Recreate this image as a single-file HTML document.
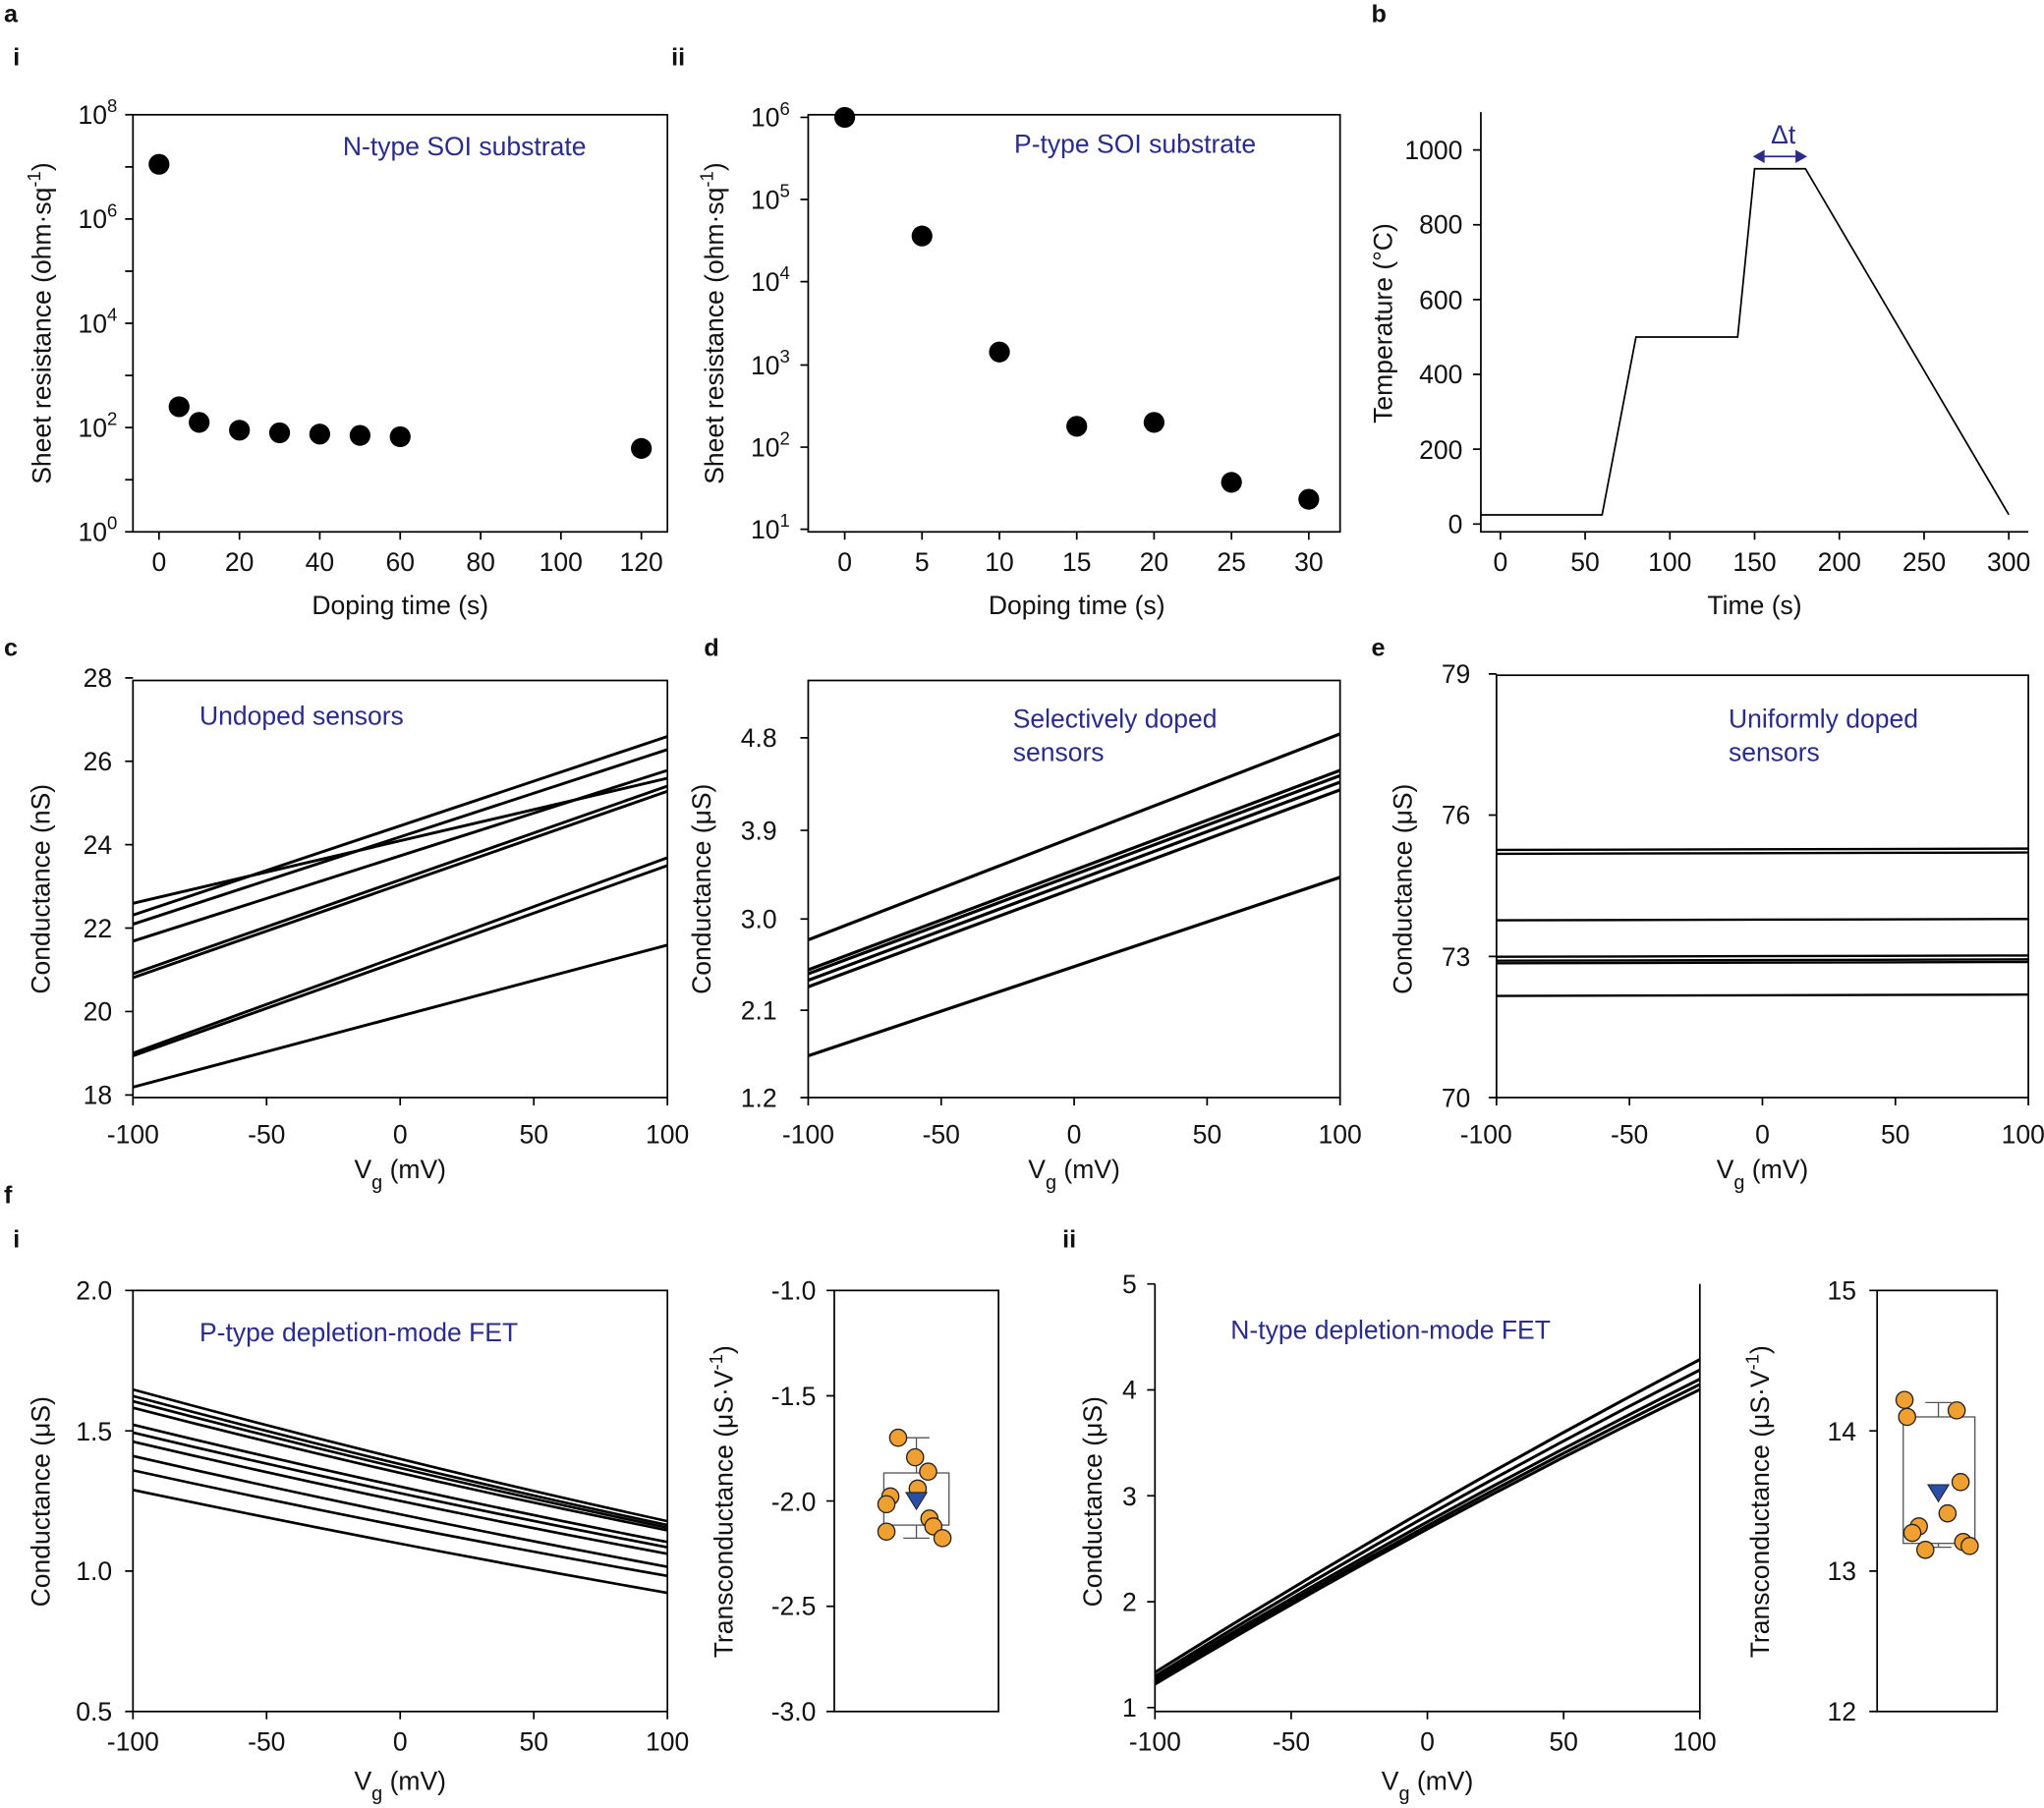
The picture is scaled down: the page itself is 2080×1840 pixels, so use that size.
<!DOCTYPE html>
<html><head><meta charset="utf-8"><style>html,body{margin:0;padding:0;background:#fff}svg{display:block}text{font-family:"Liberation Sans",Arial,sans-serif;fill:#111}</style></head><body>
<svg width="2080" height="1840" viewBox="0 0 1568 1387" xmlns="http://www.w3.org/2000/svg">
<g font-size="20">
<g font-weight="bold" font-size="19">
<text x="3" y="17">a</text><text x="10" y="50">i</text><text x="515" y="50">ii</text>
<text x="1052" y="17">b</text><text x="3" y="503">c</text><text x="540" y="503">d</text><text x="1052" y="503">e</text>
<text x="3" y="923">f</text><text x="10" y="957">i</text><text x="815" y="957">ii</text>
</g>

<!-- a-i -->
<g stroke="#000" stroke-width="1.3" fill="none">
<rect x="102" y="88" width="410" height="320"/>
<path d="M96,408H102M96,368H102M96,328H102M96,288H102M96,248H102M96,208H102M96,168H102M96,128H102M96,88H102"/>
<path d="M122,408V414M183.7,408V414M245.3,408V414M307,408V414M368.7,408V414M430.3,408V414M492,408V414"/>
</g>
<g text-anchor="end">
<text x="90" y="415">10<tspan dy="-9" font-size="14">0</tspan></text>
<text x="90" y="335">10<tspan dy="-9" font-size="14">2</tspan></text>
<text x="90" y="255">10<tspan dy="-9" font-size="14">4</tspan></text>
<text x="90" y="175">10<tspan dy="-9" font-size="14">6</tspan></text>
<text x="90" y="95">10<tspan dy="-9" font-size="14">8</tspan></text>
</g>
<g text-anchor="middle">
<text x="122" y="438">0</text><text x="183.7" y="438">20</text><text x="245.3" y="438">40</text><text x="307" y="438">60</text><text x="368.7" y="438">80</text><text x="430.3" y="438">100</text><text x="492" y="438">120</text>
<text x="307" y="471">Doping time (s)</text>
<text transform="translate(39,248) rotate(-90)">Sheet resistance (ohm·sq<tspan dy="-8" font-size="14">-1</tspan><tspan dy="8">)</tspan></text>
</g>
<text x="263" y="119" style="fill:#2b2b8a">N-type SOI substrate</text>
<g fill="#000"><circle cx="122" cy="126" r="8"/><circle cx="137.4" cy="312" r="8"/><circle cx="152.8" cy="324" r="8"/><circle cx="183.7" cy="330" r="8"/><circle cx="214.5" cy="332" r="8"/><circle cx="245.3" cy="333" r="8"/><circle cx="276.2" cy="334" r="8"/><circle cx="307" cy="335" r="8"/><circle cx="492" cy="344" r="8"/></g>

<!-- a-ii -->
<g stroke="#000" stroke-width="1.3" fill="none">
<rect x="620" y="88" width="408" height="320"/>
<path d="M614,406H620M614,343H620M614,280H620M614,216H620M614,153H620M614,90H620"/>
<path d="M648,408V414M707.3,408V414M766.7,408V414M826,408V414M885.3,408V414M944.7,408V414M1004,408V414"/>
</g>
<g text-anchor="end">
<text x="606" y="413">10<tspan dy="-9" font-size="14">1</tspan></text>
<text x="606" y="350">10<tspan dy="-9" font-size="14">2</tspan></text>
<text x="606" y="287">10<tspan dy="-9" font-size="14">3</tspan></text>
<text x="606" y="223">10<tspan dy="-9" font-size="14">4</tspan></text>
<text x="606" y="160">10<tspan dy="-9" font-size="14">5</tspan></text>
<text x="606" y="97">10<tspan dy="-9" font-size="14">6</tspan></text>
</g>
<g text-anchor="middle">
<text x="648" y="438">0</text><text x="707.3" y="438">5</text><text x="766.7" y="438">10</text><text x="826" y="438">15</text><text x="885.3" y="438">20</text><text x="944.7" y="438">25</text><text x="1004" y="438">30</text>
<text x="826" y="471">Doping time (s)</text>
<text transform="translate(555,248) rotate(-90)">Sheet resistance (ohm·sq<tspan dy="-8" font-size="14">-1</tspan><tspan dy="8">)</tspan></text>
</g>
<text x="778" y="117" style="fill:#2b2b8a">P-type SOI substrate</text>
<g fill="#000"><circle cx="648" cy="90" r="8"/><circle cx="707.3" cy="181" r="8"/><circle cx="766.7" cy="270" r="8"/><circle cx="826" cy="327" r="8"/><circle cx="885.3" cy="324" r="8"/><circle cx="944.7" cy="370" r="8"/><circle cx="1004" cy="383" r="8"/></g>

<!-- b -->
<g stroke="#000" stroke-width="1.3" fill="none">
<path d="M1136,86V408H1556"/>
<path d="M1130,402H1136M1130,344.6H1136M1130,287.2H1136M1130,229.8H1136M1130,172.4H1136M1130,115H1136"/>
<path d="M1151,408V414M1216,408V414M1281,408V414M1346,408V414M1411,408V414M1476,408V414M1541,408V414"/>
<polyline points="1136,395 1229,395 1255,258.5 1333,258.5 1346,129.4 1385,129.4 1541,394.8"/>
</g>
<g stroke="#2b2b8a" stroke-width="1.3" fill="#2b2b8a"><path d="M1348,120H1383" /><path d="M1346,120l7,-4v8zM1385,120l-7,-4v8z"/></g>
<text x="1368" y="110" text-anchor="middle" style="fill:#2b2b8a">Δt</text>
<g text-anchor="end">
<text x="1122" y="409">0</text><text x="1122" y="352">200</text><text x="1122" y="294">400</text><text x="1122" y="237">600</text><text x="1122" y="179">800</text><text x="1122" y="122">1000</text>
</g>
<g text-anchor="middle">
<text x="1151" y="438">0</text><text x="1216" y="438">50</text><text x="1281" y="438">100</text><text x="1346" y="438">150</text><text x="1411" y="438">200</text><text x="1476" y="438">250</text><text x="1541" y="438">300</text>
<text x="1346" y="471">Time (s)</text>
<text transform="translate(1068,248) rotate(-90)">Temperature (°C)</text>
</g>

<!-- c -->
<g stroke="#000" stroke-width="1.3" fill="none">
<rect x="102" y="522" width="410" height="320"/>
<path d="M96,840H102M96,776H102M96,712H102M96,648H102M96,584H102M96,520H102"/>
<path d="M102,842V848M204.5,842V848M307,842V848M409.5,842V848M512,842V848"/>
</g>
<g stroke="#000" stroke-width="2.2">
<line x1="102" y1="693" x2="512" y2="597"/><line x1="102" y1="702" x2="512" y2="565"/><line x1="102" y1="709" x2="512" y2="575"/>
<line x1="102" y1="722" x2="512" y2="591"/><line x1="102" y1="747" x2="512" y2="603"/><line x1="102" y1="750" x2="512" y2="607"/>
<line x1="102" y1="808" x2="512" y2="658"/><line x1="102" y1="810" x2="512" y2="664"/><line x1="102" y1="834" x2="512" y2="725"/>
</g>
<g text-anchor="end"><text x="86" y="847">18</text><text x="86" y="783">20</text><text x="86" y="719">22</text><text x="86" y="655">24</text><text x="86" y="591">26</text><text x="86" y="527">28</text></g>
<g text-anchor="middle">
<text x="102" y="877">-100</text><text x="204.5" y="877">-50</text><text x="307" y="877">0</text><text x="409.5" y="877">50</text><text x="512" y="877">100</text>
<text x="307" y="904">V<tspan dy="8" font-size="15">g</tspan><tspan dy="-8"> (mV)</tspan></text>
<text transform="translate(38,682) rotate(-90)">Conductance (nS)</text>
</g>
<text x="153" y="556" style="fill:#2b2b8a">Undoped sensors</text>

<!-- d -->
<g stroke="#000" stroke-width="1.3" fill="none">
<rect x="620" y="522" width="408" height="320"/>
<path d="M614,842H620M614,775H620M614,705H620M614,637H620M614,566H620"/>
<path d="M620,842V848M722,842V848M824,842V848M926,842V848M1028,842V848"/>
</g>
<g stroke="#000" stroke-width="2.4">
<line x1="620" y1="721" x2="1028" y2="563"/><line x1="620" y1="744" x2="1028" y2="591"/><line x1="620" y1="747" x2="1028" y2="595"/>
<line x1="620" y1="752" x2="1028" y2="600"/><line x1="620" y1="757" x2="1028" y2="606"/><line x1="620" y1="810" x2="1028" y2="673"/>
</g>
<g text-anchor="end"><text x="596" y="849">1.2</text><text x="596" y="782">2.1</text><text x="596" y="712">3.0</text><text x="596" y="644">3.9</text><text x="596" y="573">4.8</text></g>
<g text-anchor="middle">
<text x="620" y="877">-100</text><text x="722" y="877">-50</text><text x="824" y="877">0</text><text x="926" y="877">50</text><text x="1028" y="877">100</text>
<text x="824" y="904">V<tspan dy="8" font-size="15">g</tspan><tspan dy="-8"> (mV)</tspan></text>
<text transform="translate(545,682) rotate(-90)">Conductance (μS)</text>
</g>
<text x="777" y="558" style="fill:#2b2b8a">Selectively doped</text><text x="777" y="584" style="fill:#2b2b8a">sensors</text>

<!-- e -->
<g stroke="#000" stroke-width="1.3" fill="none">
<rect x="1148" y="518" width="408" height="324"/>
<path d="M1142,842H1148M1142,733.7H1148M1142,625.3H1148M1142,517H1148"/>
<path d="M1148,842V848M1250,842V848M1352,842V848M1454,842V848M1556,842V848"/>
</g>
<g stroke="#000" stroke-width="1.8">
<line x1="1148" y1="652" x2="1556" y2="651"/><line x1="1148" y1="655" x2="1556" y2="654"/><line x1="1148" y1="706" x2="1556" y2="705"/>
<line x1="1148" y1="734" x2="1556" y2="733"/><line x1="1148" y1="737" x2="1556" y2="736"/><line x1="1148" y1="739" x2="1556" y2="738"/><line x1="1148" y1="764" x2="1556" y2="763"/>
</g>
<g text-anchor="end"><text x="1128" y="849">70</text><text x="1128" y="741">73</text><text x="1128" y="632">76</text><text x="1128" y="524">79</text></g>
<g text-anchor="middle">
<text x="1140" y="877">-100</text><text x="1250" y="877">-50</text><text x="1352" y="877">0</text><text x="1454" y="877">50</text><text x="1552" y="877">100</text>
<text x="1352" y="904">V<tspan dy="8" font-size="15">g</tspan><tspan dy="-8"> (mV)</tspan></text>
<text transform="translate(1083,682) rotate(-90)">Conductance (μS)</text>
</g>
<text x="1326" y="558" style="fill:#2b2b8a">Uniformly doped</text><text x="1326" y="584" style="fill:#2b2b8a">sensors</text>

<!-- f-i -->
<g stroke="#000" stroke-width="1.3" fill="none">
<rect x="102" y="990" width="410" height="323"/>
<path d="M96,1313H102M96,1205.3H102M96,1097.7H102M96,990H102"/>
<path d="M102,1313V1319M204.5,1313V1319M307,1313V1319M409.5,1313V1319M512,1313V1319"/>
</g>
<g stroke="#000" stroke-width="2" fill="none">
<path d="M102,1066Q307,1122 512,1167"/><path d="M102,1071Q307,1126 512,1170"/><path d="M102,1075Q307,1129 512,1172"/><path d="M102,1080Q307,1133 512,1174"/>
<path d="M102,1093Q307,1143 512,1183"/><path d="M102,1099Q307,1148 512,1187"/><path d="M102,1106Q307,1154 512,1192"/><path d="M102,1117Q307,1164 512,1202"/>
<path d="M102,1128Q307,1173 512,1209"/><path d="M102,1143Q307,1186 512,1222"/>
</g>
<g text-anchor="end"><text x="86" y="1320">0.5</text><text x="86" y="1212">1.0</text><text x="86" y="1105">1.5</text><text x="86" y="997">2.0</text></g>
<g text-anchor="middle">
<text x="102" y="1343">-100</text><text x="204.5" y="1343">-50</text><text x="307" y="1343">0</text><text x="409.5" y="1343">50</text><text x="512" y="1343">100</text>
<text x="307" y="1373">V<tspan dy="8" font-size="15">g</tspan><tspan dy="-8"> (mV)</tspan></text>
<text transform="translate(38,1152) rotate(-90)">Conductance (μS)</text>
</g>
<text x="153" y="1029" style="fill:#2b2b8a">P-type depletion-mode FET</text>

<!-- f-i inset -->
<g stroke="#000" stroke-width="1.3" fill="none">
<rect x="640" y="990" width="126" height="323"/>
<path d="M634,990H640M634,1070.8H640M634,1151.5H640M634,1232.3H640M634,1313H640"/>
</g>
<g stroke="#555" stroke-width="1" fill="none">
<rect x="678" y="1130" width="50" height="40"/><path d="M703,1130V1103M693,1103H713M703,1170V1180M693,1180H713"/>
</g>
<g fill="#f0a030" stroke="#222" stroke-width="1">
<circle cx="689" cy="1103" r="6.5"/><circle cx="702" cy="1118" r="6.5"/><circle cx="712" cy="1129" r="6.5"/><circle cx="704" cy="1142" r="6.5"/>
<circle cx="683" cy="1148" r="6.5"/><circle cx="680" cy="1154" r="6.5"/><circle cx="713" cy="1165" r="6.5"/><circle cx="716" cy="1171" r="6.5"/>
<circle cx="680" cy="1175" r="6.5"/><circle cx="723" cy="1180" r="6.5"/>
</g>
<path d="M695,1145H711L703,1158Z" fill="#2b4ea8" stroke="#222" stroke-width="0.8"/>
<g text-anchor="end"><text x="626" y="997">-1.0</text><text x="626" y="1078">-1.5</text><text x="626" y="1159">-2.0</text><text x="626" y="1239">-2.5</text><text x="626" y="1320">-3.0</text></g>
<text transform="translate(562,1152) rotate(-90)" text-anchor="middle">Transconductance (μS·V<tspan dy="-8" font-size="14">-1</tspan><tspan dy="8">)</tspan></text>

<!-- f-ii -->
<g stroke="#000" stroke-width="1.3" fill="none">
<path d="M886,985V1313H1304V985"/>
<path d="M880,1310H886M880,1228.8H886M880,1147.5H886M880,1066.3H886M880,985H886"/>
<path d="M886,1313V1319M990.5,1313V1319M1095,1313V1319M1199.5,1313V1319M1304,1313V1319"/>
</g>
<g stroke="#000" stroke-width="2.3" fill="none">
<path d="M886,1292Q1095,1167 1304,1066"/><path d="M886,1290Q1095,1165 1304,1062"/><path d="M886,1288Q1095,1162 1304,1058"/>
<path d="M886,1286Q1095,1157 1304,1051"/><path d="M886,1283Q1095,1152 1304,1043"/>
</g>
<g text-anchor="end"><text x="872" y="1317">1</text><text x="872" y="1236">2</text><text x="872" y="1155">3</text><text x="872" y="1073">4</text><text x="872" y="992">5</text></g>
<g text-anchor="middle">
<text x="886" y="1343">-100</text><text x="990.5" y="1343">-50</text><text x="1095" y="1343">0</text><text x="1199.5" y="1343">50</text><text x="1300" y="1343">100</text>
<text x="1095" y="1373">V<tspan dy="8" font-size="15">g</tspan><tspan dy="-8"> (mV)</tspan></text>
<text transform="translate(845,1152) rotate(-90)">Conductance (μS)</text>
</g>
<text x="944" y="1027" style="fill:#2b2b8a">N-type depletion-mode FET</text>

<!-- f-ii inset -->
<g stroke="#000" stroke-width="1.3" fill="none">
<rect x="1440" y="990" width="92" height="323"/>
<path d="M1434,990H1440M1434,1097.7H1440M1434,1205.3H1440M1434,1313H1440"/>
</g>
<g stroke="#555" stroke-width="1" fill="none">
<rect x="1460" y="1087" width="55" height="97"/><path d="M1487,1087V1076M1477,1076H1497M1487,1184V1187M1477,1187H1497"/>
</g>
<g fill="#f0a030" stroke="#222" stroke-width="1">
<circle cx="1461" cy="1074" r="6.5"/><circle cx="1501" cy="1082" r="6.5"/><circle cx="1463" cy="1087" r="6.5"/><circle cx="1504" cy="1137" r="6.5"/>
<circle cx="1494" cy="1161" r="6.5"/><circle cx="1472" cy="1171" r="6.5"/><circle cx="1467" cy="1176" r="6.5"/><circle cx="1506" cy="1183" r="6.5"/>
<circle cx="1511" cy="1186" r="6.5"/><circle cx="1477" cy="1189" r="6.5"/>
</g>
<path d="M1479,1139H1495L1487,1152Z" fill="#2b4ea8" stroke="#222" stroke-width="0.8"/>
<g text-anchor="end"><text x="1424" y="997">15</text><text x="1424" y="1105">14</text><text x="1424" y="1212">13</text><text x="1424" y="1320">12</text></g>
<text transform="translate(1357,1152) rotate(-90)" text-anchor="middle">Transconductance (μS·V<tspan dy="-8" font-size="14">-1</tspan><tspan dy="8">)</tspan></text>
</g>
</svg>
</body></html>
